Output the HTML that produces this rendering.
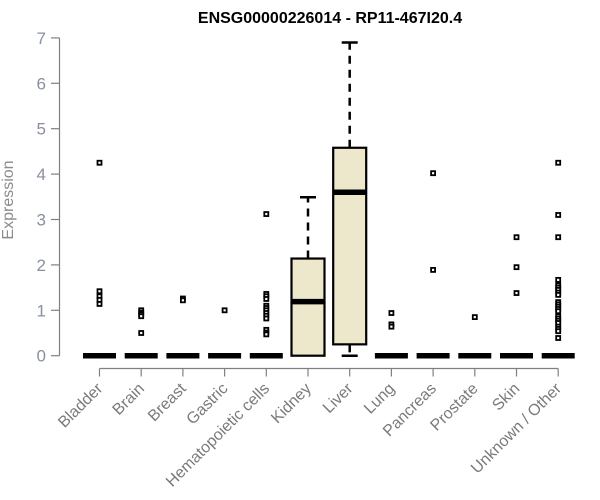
<!DOCTYPE html>
<html><head><meta charset="utf-8"><style>
html,body{margin:0;padding:0;background:#fff;}
svg{display:block;font-family:"Liberation Sans",Arial,sans-serif;}
</style></head><body>
<svg id="chart" width="600" height="500" viewBox="0 0 600 500">
<text x="330" y="23" text-anchor="middle" font-weight="bold" font-size="16" fill="#000">ENSG00000226014 - RP11-467I20.4</text>
<text transform="translate(13,200) rotate(-90)" text-anchor="middle" font-size="16" fill="#8a8a8a">Expression</text>
<g id="yaxis"></g>
<g id="xaxis"></g>
<g id="boxes"></g>
</svg>
<script>
const categories = ["Bladder","Brain","Breast","Gastric","Hematopoietic cells","Kidney","Liver","Lung","Pancreas","Prostate","Skin","Unknown / Other"];
const q1 = [0,0,0,0,0,0,0.25,0,0,0,0,0];
const medians = [0,0,0,0,0,1.19,3.6,0,0,0,0,0];
const q3 = [0,0,0,0,0,2.14,4.58,0,0,0,0,0];
const whiskLow = [0,0,0,0,0,0,0,0,0,0,0,0];
const whiskHigh = [0,0,0,0,0,3.49,6.9,0,0,0,0,0];
const outliers = [
 [4.25,1.42,1.31,1.23,1.14],
 [1.0,0.95,0.91,0.87,0.5],
 [1.26,1.22],
 [1.0],
 [3.12,1.36,1.31,1.25,1.1,1.05,1.0,0.94,0.88,0.82,0.57,0.51,0.47],
 [],
 [],
 [0.94,0.69,0.64],
 [4.02,1.89],
 [0.85],
 [2.61,1.95,1.38],
 [4.25,3.1,2.61,1.67,1.55,1.5,1.45,1.39,1.34,1.18,1.13,1.08,1.03,0.98,0.87,0.82,0.77,0.72,0.64,0.59,0.54,0.39]
];
const yTicks = [0,1,2,3,4,5,6,7];

const NS="http://www.w3.org/2000/svg";
const y0=355.7, yUnit=45.4;
const yScale=v=>y0-v*yUnit;
const xScale=i=>99.5+i*41.7;
const bw=33;
function mk(tag,attrs,parent){const e=document.createElementNS(NS,tag);for(const k in attrs)e.setAttribute(k,attrs[k]);parent.appendChild(e);return e;}
const ya=document.getElementById('yaxis'), xa=document.getElementById('xaxis'), bx=document.getElementById('boxes');
const gray="#808080";
mk('line',{x1:59.5,x2:59.5,y1:yScale(yTicks[0]),y2:yScale(yTicks[yTicks.length-1]),stroke:gray,'stroke-width':1.2},ya);
yTicks.forEach(t=>{
 const y=yScale(t);
 mk('line',{x1:51,x2:59.5,y1:y,y2:y,stroke:gray,'stroke-width':1.2},ya);
 const tx=mk('text',{x:46,y:y+6,'text-anchor':'end','font-size':17,fill:"#8890a0"},ya);
 
 
 tx.textContent=t;
});
const xl=368.5;
mk('line',{x1:xScale(0),x2:xScale(categories.length-1),y1:xl,y2:xl,stroke:gray,'stroke-width':1.2},xa);
categories.forEach((c,i)=>{
 const x=xScale(i);
 mk('line',{x1:x,x2:x,y1:xl,y2:xl+8,stroke:gray,'stroke-width':1.2},xa);
 const tx=mk('text',{transform:`translate(${x+4},${xl+21}) rotate(-45)`,'text-anchor':'end','font-size':16,fill:"#7a7a7a"},xa);
 
 
 tx.textContent=c;
 const g=mk('g',{},bx);
 
 
 if(whiskHigh[i]>q3[i]){
  mk('line',{x1:x,x2:x,y1:yScale(q3[i]),y2:yScale(whiskHigh[i]),stroke:'#000','stroke-width':2.5,'stroke-dasharray':'8,6'},g);
  mk('line',{x1:x-8,x2:x+8,y1:yScale(whiskHigh[i]),y2:yScale(whiskHigh[i]),stroke:'#000','stroke-width':2.5},g);
 }
 if(whiskLow[i]<q1[i]){
  mk('line',{x1:x,x2:x,y1:yScale(q1[i]),y2:yScale(whiskLow[i]),stroke:'#000','stroke-width':2.5,'stroke-dasharray':'8,6'},g);
  mk('line',{x1:x-8,x2:x+8,y1:yScale(whiskLow[i]),y2:yScale(whiskLow[i]),stroke:'#000','stroke-width':2.5},g);
 }
 if(q3[i]>q1[i]){
  mk('rect',{x:x-bw/2,y:yScale(q3[i]),width:bw,height:yScale(q1[i])-yScale(q3[i]),fill:'#ede8cc',stroke:'#000','stroke-width':2.2},g);
 }
 mk('line',{x1:x-bw/2,x2:x+bw/2,y1:yScale(medians[i]),y2:yScale(medians[i]),stroke:'#000','stroke-width':5.5},g);
 outliers[i].forEach(v=>{
  const r=mk('rect',{x:x-2,y:yScale(v)-2,width:4,height:4,fill:'#fff',stroke:'#000','stroke-width':1.8},g);
  
  
 });
});
</script>
</body></html>
